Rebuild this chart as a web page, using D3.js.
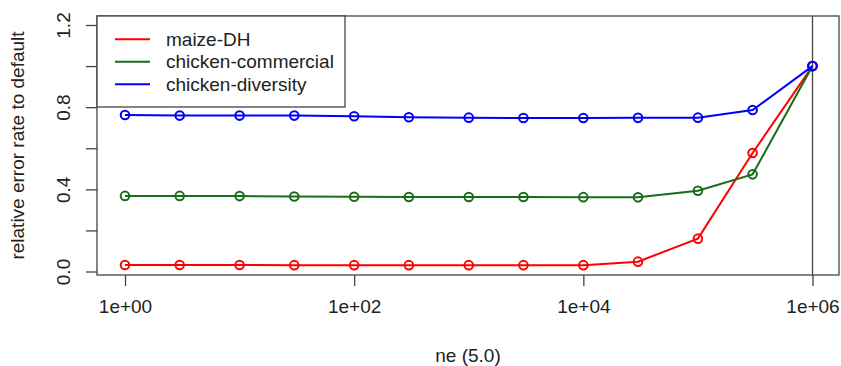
<!DOCTYPE html>
<html><head><meta charset="utf-8">
<script src="https://cdn.jsdelivr.net/npm/d3@7"></script>
<style>
html,body{margin:0;padding:0;background:#fff;}
text{font-family:"Liberation Sans",Arial,sans-serif;fill:#222;}
</style></head>
<body>
<svg id="chart" width="841" height="366"></svg>
<script>
const ne = [1, 3, 10, 30, 100, 300, 1000, 3000, 10000, 30000, 100000, 300000, 1000000];
const maizeDH = [0.032, 0.032, 0.032, 0.031, 0.031, 0.031, 0.031, 0.031, 0.031, 0.048, 0.160, 0.577, 1.0];
const chickenCommercial = [0.368, 0.368, 0.367, 0.365, 0.364, 0.363, 0.363, 0.363, 0.362, 0.361, 0.393, 0.473, 1.0];
const chickenDiversity = [0.762, 0.759, 0.759, 0.759, 0.756, 0.751, 0.749, 0.747, 0.747, 0.748, 0.749, 0.786, 1.0];
const seriesNames = ["maize-DH", "chicken-commercial", "chicken-diversity"];
const seriesColors = ["#ff0000", "#1a6b1a", "#0000ff"];
const xTicks = [1, 100, 10000, 1000000];
const xTickLabels = ["1e+00", "1e+02", "1e+04", "1e+06"];
const yTicks = [0, 0.2, 0.4, 0.6, 0.8, 1.0, 1.2];
const yTickLabels = ["0.0", "", "0.4", "", "0.8", "", "1.2"];
const xTitle = "ne (5.0)";
const yTitle = "relative error rate to default";

const svg = d3.select("#chart");
const box = {l: 97, r: 839, t: 16, b: 275};
const x = d3.scaleLog().domain([1, 1e6]).range([125, 812.5]);
const y = d3.scaleLinear().domain([0, 1.2]).range([271.5, 25]);
const axisCol = "#444";
const fs = 19;

// plot box
svg.append("rect").attr("x", box.l).attr("y", box.t)
  .attr("width", box.r - box.l).attr("height", box.b - box.t)
  .attr("fill", "none").attr("stroke", axisCol).attr("stroke-width", 1.3);

// vertical reference line at 1e6
svg.append("line").attr("x1", x(1e6)).attr("x2", x(1e6))
  .attr("y1", box.t).attr("y2", box.b)
  .attr("stroke", axisCol).attr("stroke-width", 1.3);

// x axis
const xAxis = d3.axisBottom(x).tickValues(xTicks)
  .tickFormat((d, i) => xTickLabels[i]).tickSize(11).tickSizeOuter(0).tickPadding(14);
const gx = svg.append("g").attr("transform", `translate(0,${box.b})`).call(xAxis);
gx.select(".domain").remove();
gx.selectAll(".tick line").attr("stroke", axisCol).attr("stroke-width", 1.3);
gx.selectAll(".tick text").attr("font-size", fs).attr("fill", "#222")
  .attr("font-family", "Liberation Sans, Arial, sans-serif");

// y axis
const yAxis = d3.axisLeft(y).tickValues(yTicks)
  .tickFormat((d, i) => yTickLabels[i]).tickSize(11).tickSizeOuter(0);
const gy = svg.append("g").attr("transform", `translate(${box.l},0)`).call(yAxis);
gy.select(".domain").remove();
gy.selectAll(".tick line").attr("stroke", axisCol).attr("stroke-width", 1.3);
gy.selectAll(".tick text").attr("font-size", fs).attr("fill", "#222")
  .attr("font-family", "Liberation Sans, Arial, sans-serif")
  .attr("x", null).attr("dy", null)
  .attr("text-anchor", "middle")
  .attr("transform", "translate(-34,0) rotate(-90)")
  .attr("dy", "0.35em");

// axis titles
svg.append("text").attr("x", (box.l + box.r) / 2).attr("y", 362)
  .attr("text-anchor", "middle").attr("font-size", fs).text(xTitle);
svg.append("text").attr("transform", `translate(24,${(box.t + box.b) / 2}) rotate(-90)`)
  .attr("text-anchor", "middle").attr("font-size", fs).text(yTitle);

// series
const allSeries = [maizeDH, chickenCommercial, chickenDiversity];
const line = d3.line().x((d, i) => x(ne[i])).y(d => y(d));
allSeries.forEach((vals, k) => {
  const g = svg.append("g");
  g.append("path").datum(vals).attr("d", line)
    .attr("fill", "none").attr("stroke", seriesColors[k]).attr("stroke-width", 2);
  g.selectAll("circle").data(vals).join("circle")
    .attr("cx", (d, i) => x(ne[i])).attr("cy", d => y(d)).attr("r", 4.3)
    .attr("fill", "none").attr("stroke", seriesColors[k]).attr("stroke-width", 2);
});

// legend
const lg = svg.append("g");
lg.append("rect").attr("x", box.l).attr("y", box.t).attr("width", 248).attr("height", 91)
  .attr("fill", "#fff").attr("stroke", axisCol).attr("stroke-width", 1.3);
seriesNames.forEach((name, k) => {
  const yy = 39.3 + k * 22.5;
  lg.append("line").attr("x1", 115).attr("x2", 150).attr("y1", yy).attr("y2", yy)
    .attr("stroke", seriesColors[k]).attr("stroke-width", 2);
  lg.append("text").attr("x", 166).attr("y", yy).attr("dy", "0.35em")
    .attr("font-size", fs).text(name);
});
</script>
</body></html>
